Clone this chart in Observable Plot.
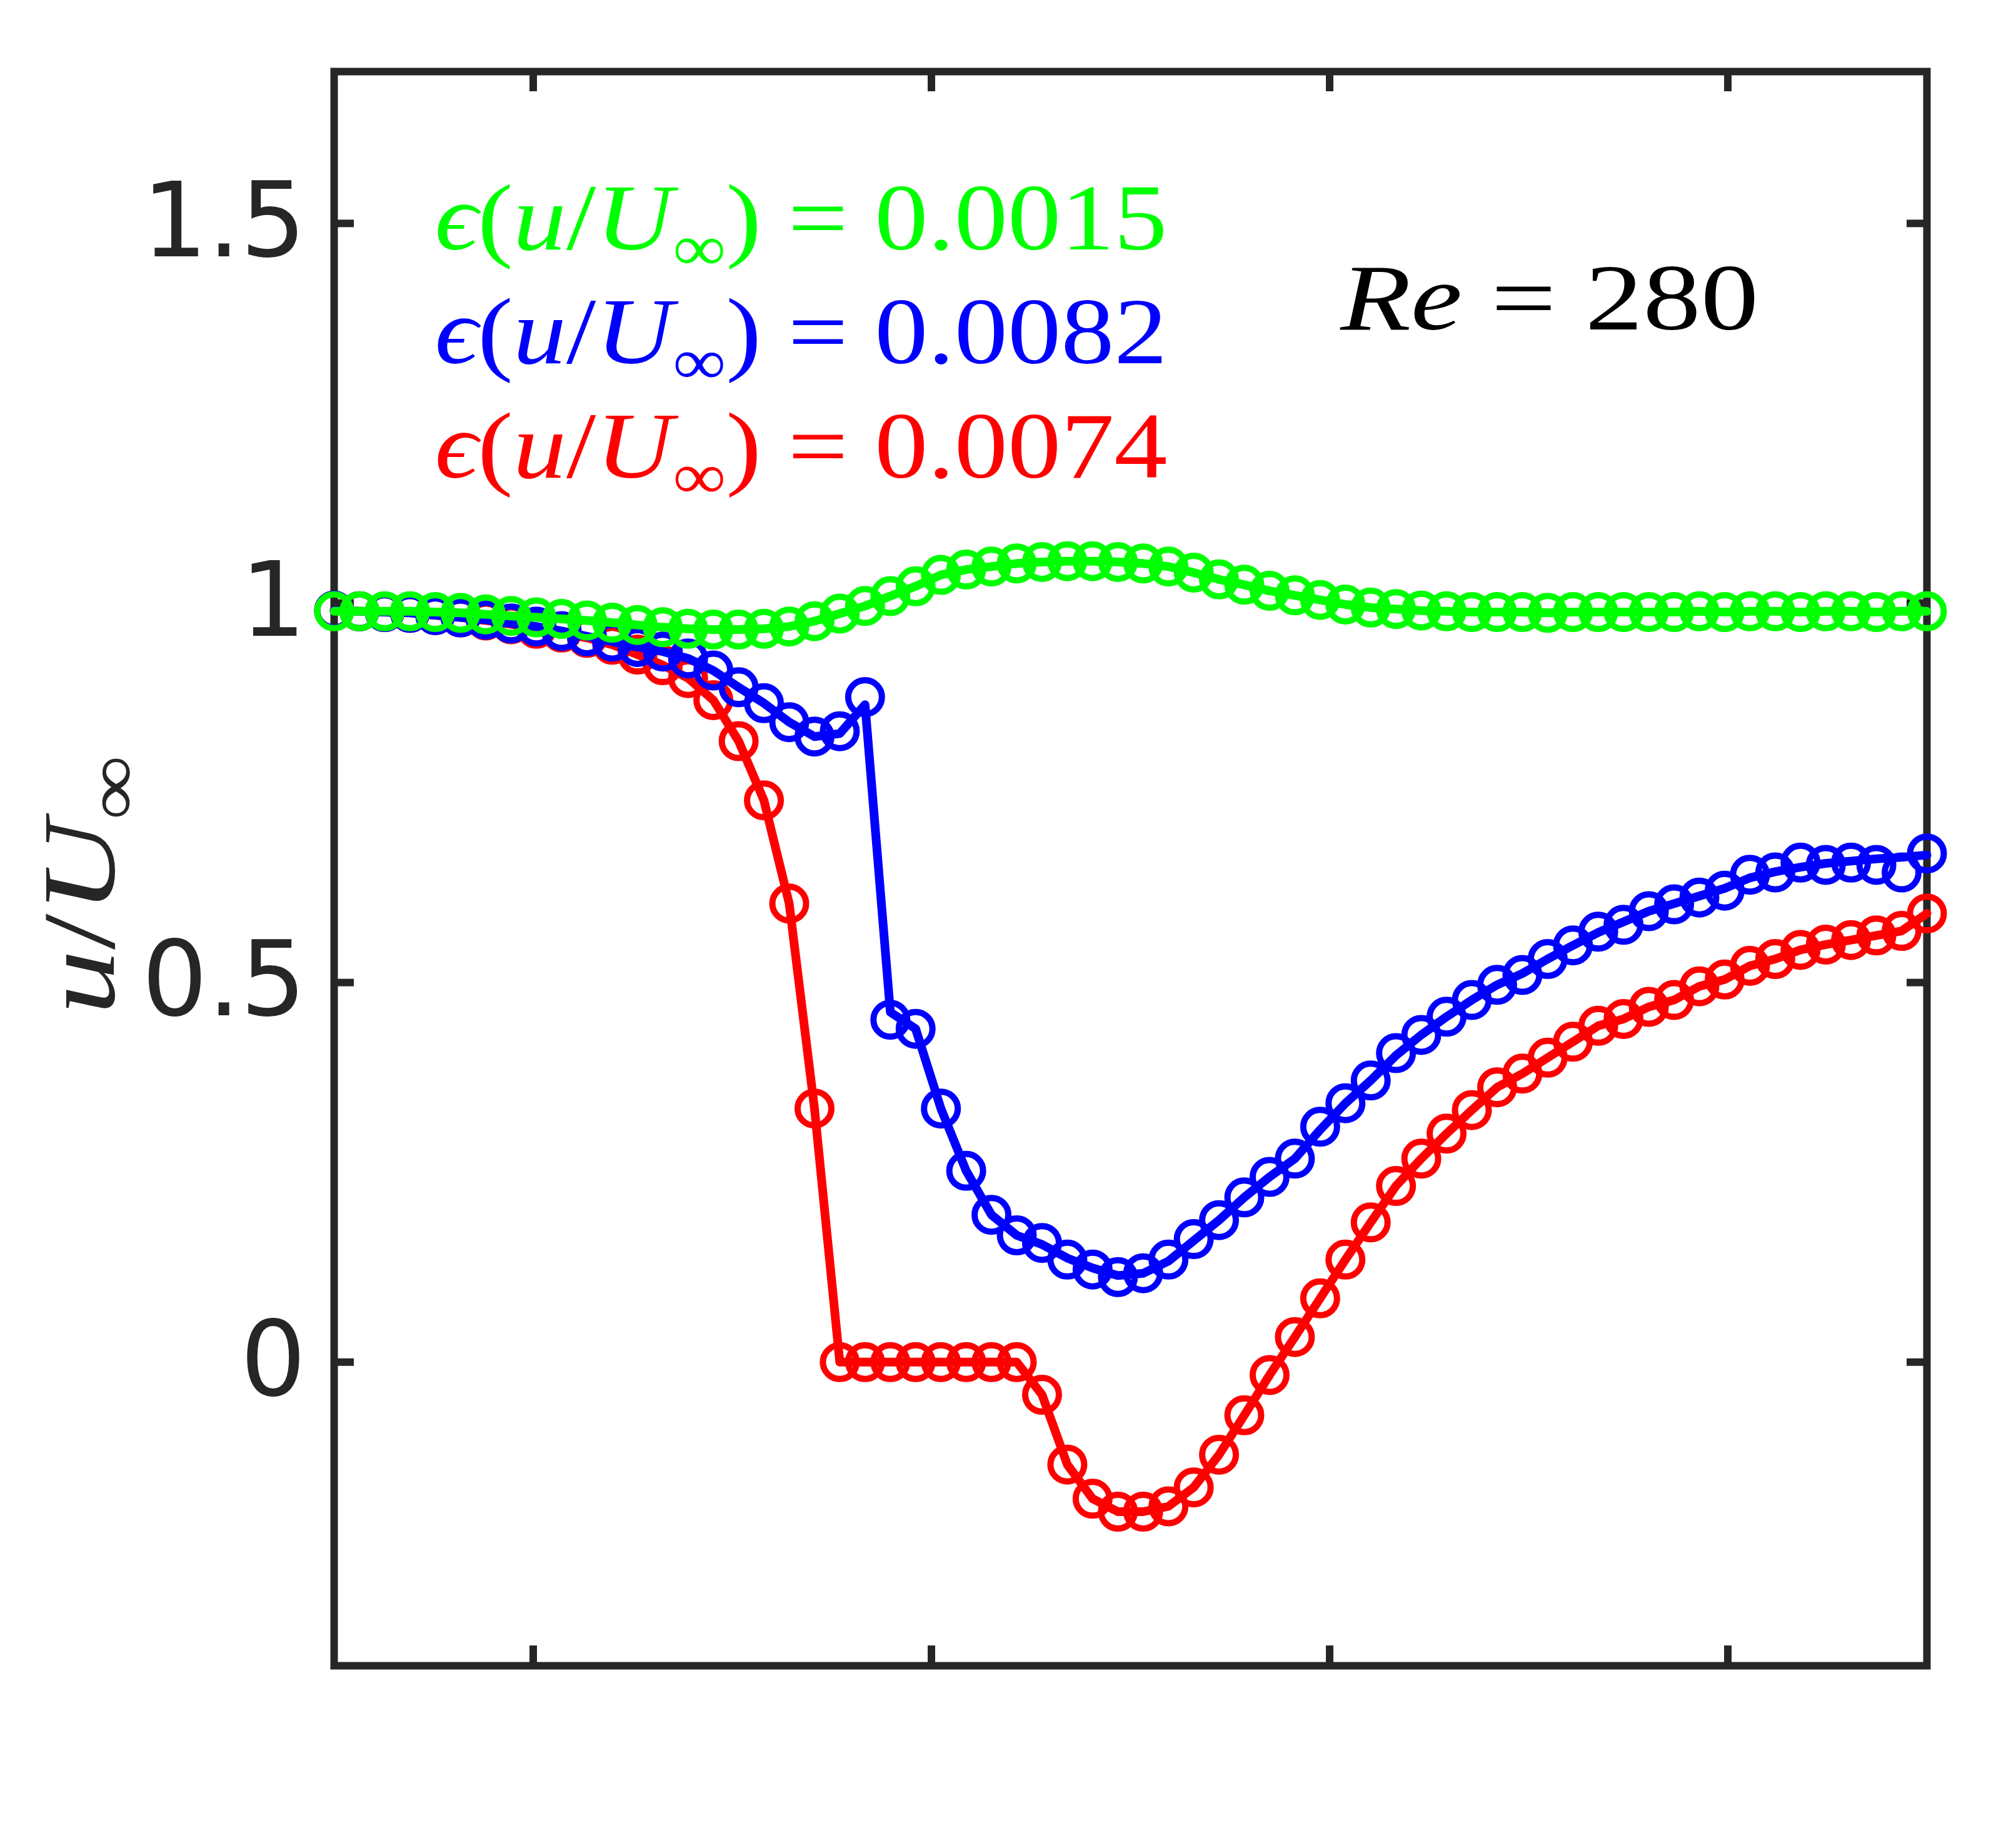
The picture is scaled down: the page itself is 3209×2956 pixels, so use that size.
<!DOCTYPE html>
<html>
<head>
<meta charset="utf-8">
<script src="https://cdn.jsdelivr.net/npm/d3@7"></script>
<script src="https://cdn.jsdelivr.net/npm/@observablehq/plot@0.6"></script>
<style>
  html, body { margin: 0; padding: 0; background: #ffffff; }
  #chart svg { display: block; }
</style>
</head>
<body>
<div id="chart"></div>
<script>
// ---------- data ----------
// sample position along the profile (uniform sampling, 64 samples)
const xIndex = [0,1,2,3,4,5,6,7,8,9,10,11,12,13,14,15,16,17,18,19,20,21,22,23,24,25,26,27,28,29,30,31,
                32,33,34,35,36,37,38,39,40,41,42,43,44,45,46,47,48,49,50,51,52,53,54,55,56,57,58,59,60,61,62,63];

const uGreen = [0.989,0.989,0.989,0.989,0.988,0.987,0.985,0.983,0.981,0.979,0.977,0.974,0.971,0.968,0.966,0.965,
                0.965,0.966,0.969,0.976,0.986,0.996,1.009,1.022,1.037,1.044,1.048,1.052,1.054,1.055,1.055,1.054,
                1.052,1.048,1.040,1.031,1.024,1.016,1.010,1.004,0.998,0.994,0.992,0.990,0.989,0.988,0.988,0.988,
                0.987,0.988,0.988,0.988,0.988,0.988,0.989,0.988,0.989,0.989,0.988,0.989,0.989,0.988,0.989,0.989];

// blue: markers and the solid line (they part slightly at the peak and near the right end)
const uBlue  = [0.990,0.989,0.988,0.987,0.984,0.981,0.978,0.973,0.969,0.963,0.956,0.949,0.942,0.936,0.927,0.911,
                0.889,0.868,0.843,0.824,0.831,0.876,0.451,0.439,0.334,0.252,0.194,0.167,0.157,0.135,0.122,0.112,
                0.117,0.135,0.162,0.187,0.217,0.244,0.268,0.310,0.341,0.371,0.407,0.431,0.455,0.477,0.497,0.510,
                0.531,0.549,0.567,0.576,0.594,0.603,0.612,0.621,0.642,0.645,0.658,0.655,0.658,0.655,0.645,0.670];
const uBlueLine = [0.990,0.989,0.988,0.987,0.984,0.981,0.978,0.973,0.969,0.963,0.956,0.949,0.942,0.936,0.927,0.911,
                0.889,0.868,0.843,0.824,0.828,0.866,0.461,0.439,0.334,0.252,0.194,0.167,0.155,0.137,0.124,0.114,
                0.117,0.133,0.160,0.187,0.217,0.244,0.268,0.306,0.341,0.371,0.404,0.431,0.455,0.477,0.497,0.512,
                0.531,0.549,0.566,0.580,0.594,0.604,0.614,0.624,0.638,0.646,0.652,0.657,0.660,0.663,0.665,0.668];

const uRed   = [0.990,0.989,0.988,0.987,0.984,0.981,0.977,0.972,0.966,0.961,0.954,0.945,0.932,0.918,0.901,0.872,
                0.818,0.740,0.604,0.334,0.000,0.000,0.000,0.000,0.000,0.000,0.000,0.000,-0.043,-0.135,-0.180,-0.197,
                -0.197,-0.190,-0.165,-0.122,-0.070,-0.017,0.033,0.084,0.135,0.184,0.232,0.268,0.301,0.332,0.362,0.380,
                0.401,0.422,0.443,0.452,0.468,0.477,0.495,0.504,0.522,0.531,0.543,0.550,0.556,0.562,0.568,0.591];

const yTicks = [0, 0.5, 1, 1.5];
const yTickLabels = ["0", "0.5", "1", "1.5"];
const xTicks = [7.875, 23.625, 39.375, 55.125];   // unlabeled ticks

const legendErrors = ["0.0015", "0.0082", "0.0074"];  // green, blue, red
const legendColors = ["#00ff00", "#0000ff", "#ff0000"];
const legendYs = [1.505, 1.355, 1.205];
const legendX = 3.98;
const reLabel = "Re = 280";
const reX = 39.8, reY = 1.40;
const yLabel = "u/U∞";

// ---------- layout ----------
const W = 3209, H = 2956;
const mL = 534, mR = 127, mT = 114, mB = 292;
const plotW = W - mL - mR;
const plotH = H - mT - mB;
const tickLen = 32;
const ink = "#262626";
const texFont = "'Liberation Serif', 'DejaVu Serif', serif";
const texSize = 150;

const series = [
  {color: "#ff0000", dots: uRed, line: uRed},
  {color: "#0000ff", dots: uBlue, line: uBlueLine},
  {color: "#00ff00", dots: uGreen, line: uGreen}
];

const seriesMarks = series.flatMap(s => {
  const dotRows = xIndex.map((x, i) => ({x, u: s.dots[i]}));
  const lineRows = xIndex.map((x, i) => ({x, u: s.line[i]}));
  return [
    Plot.dot(dotRows, {x: "x", y: "u", r: 27, stroke: s.color, strokeWidth: 10, fill: "none"}),
    Plot.line(lineRows, {x: "x", y: "u", stroke: s.color, strokeWidth: 14, strokeLinejoin: "round"})
  ];
});

const legendMarks = legendErrors.map((e, i) =>
  Plot.text([{x: legendX, y: legendYs[i], t: `ϵ(u/U∞) = ${e}`}], {
    x: "x", y: "y", text: "t", textAnchor: "start", fill: legendColors[i],
    fontFamily: texFont, fontSize: texSize
  })
);

const plot = Plot.plot({
  width: W, height: H,
  marginLeft: mL, marginRight: mR, marginTop: mT, marginBottom: mB,
  x: {domain: [0, 63], label: null, axis: null},
  y: {domain: [-0.4, 1.7], label: null},
  style: {background: "#ffffff"},
  marks: [
    Plot.frame({stroke: ink, strokeWidth: 12}),
    // inward tick marks on all four sides
    Plot.tickY(yTicks, {y: d => d, stroke: ink, strokeWidth: 12, insetRight: plotW - tickLen}),
    Plot.tickY(yTicks, {y: d => d, stroke: ink, strokeWidth: 12, insetLeft: plotW - tickLen}),
    Plot.tickX(xTicks, {x: d => d, stroke: ink, strokeWidth: 12, insetTop: plotH - tickLen}),
    Plot.tickX(xTicks, {x: d => d, stroke: ink, strokeWidth: 12, insetBottom: plotH - tickLen}),
    // tick labels
    Plot.axisY(yTicks, {anchor: "left", tickSize: 0, tickPadding: 45, fontSize: 165,
      fontFamily: "'DejaVu Sans', sans-serif", fill: ink, label: null,
      tickFormat: d => yTickLabels[yTicks.indexOf(d)]}),
    ...seriesMarks,
    ...legendMarks,
    Plot.text([{x: reX, y: reY, t: reLabel}], {x: "x", y: "y", text: "t", textAnchor: "start",
      fill: "#000000", fontFamily: texFont, fontSize: texSize}),
    Plot.text([yLabel], {frameAnchor: "left", text: d => d, rotate: -90, dx: -405, dy: 26,
      fill: ink, fontFamily: texFont, fontSize: 165, textAnchor: "middle"})
  ]
});

document.getElementById("chart").appendChild(plot);

// ---------- LaTeX-like styling: italic letters, subscript ∞ ----------
const NS = "http://www.w3.org/2000/svg";
function texify(el, fs, targetLen) {
  const s = el.textContent;
  while (el.firstChild) el.removeChild(el.firstChild);
  const shift = 0.22 * fs;
  let prevSub = false;
  const groups = [];
  for (const ch of s) {
    const kind = ch === "∞" ? "sub" : (/[A-Za-zϵ]/.test(ch) ? "it" : "rm");
    if (groups.length && groups[groups.length - 1].kind === kind) groups[groups.length - 1].txt += ch;
    else groups.push({kind, txt: ch});
  }
  for (const g of groups) {
    const t = document.createElementNS(NS, "tspan");
    t.textContent = g.txt;
    if (g.kind === "it") t.setAttribute("font-style", "italic");
    if (g.kind === "sub") {
      t.setAttribute("font-size", 0.7 * fs);
      t.setAttribute("dy", shift);
      prevSub = true;
    } else if (prevSub) {
      t.setAttribute("dy", -shift);
      prevSub = false;
    }
    el.appendChild(t);
  }
  if (targetLen) {
    el.setAttribute("textLength", targetLen);
    el.setAttribute("lengthAdjust", "spacingAndGlyphs");
  }
}
plot.querySelectorAll("text").forEach(el => {
  const s = el.textContent;
  if (s.startsWith("ϵ(")) texify(el, texSize, 1172);
  else if (s === reLabel) texify(el, texSize, 669);
  else if (s === yLabel) texify(el, 165, 415);
});
</script>
</body>
</html>
